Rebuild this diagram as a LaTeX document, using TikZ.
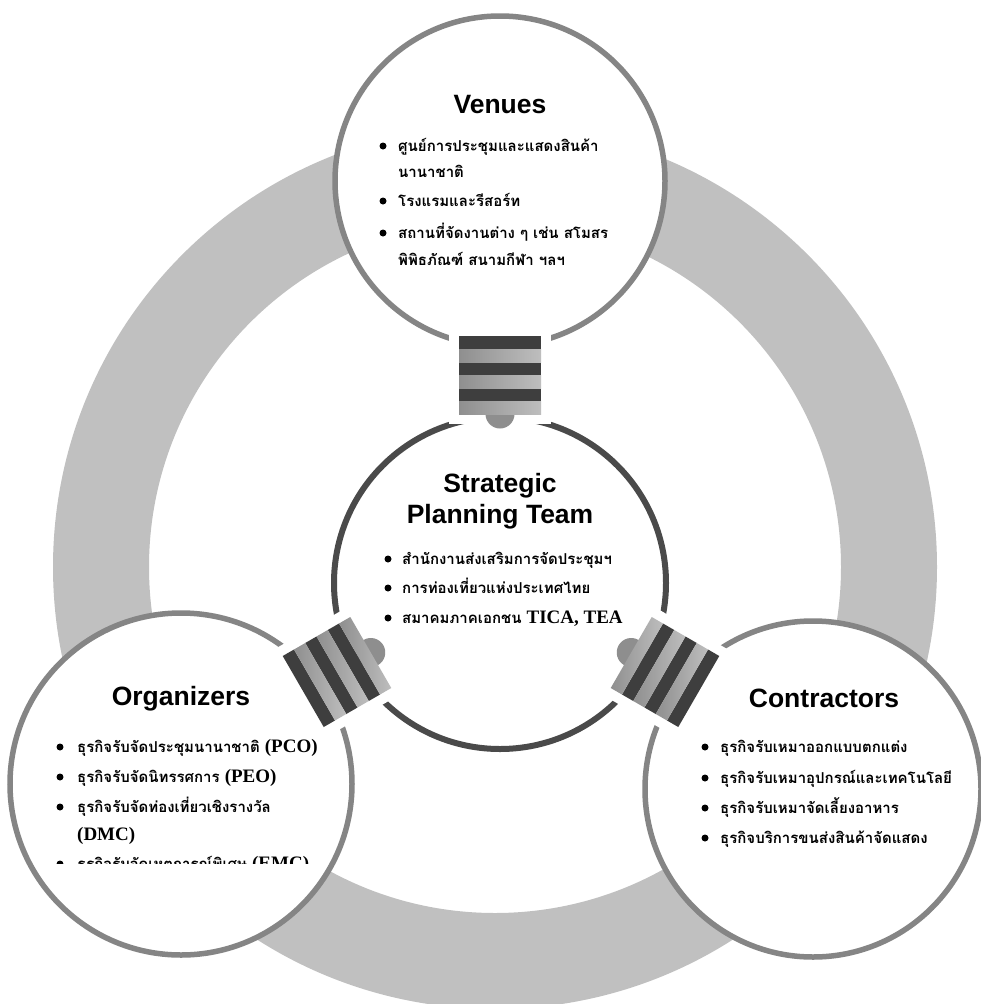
\documentclass[tikz,border=0pt]{standalone}
\usepackage{fontspec}
\setmainfont{Liberation Sans}
\newfontfamily\thaifont[Script=Thai]{Loma}
\newfontfamily\romfont{Liberation Serif}
\definecolor{ringgray}{HTML}{C0C0C0}
\definecolor{rimgray}{HTML}{858585}
\definecolor{rimdark}{HTML}{4A4A4A}
\definecolor{stripedark}{HTML}{3E3E3E}
\definecolor{stripelight}{HTML}{A8A8A8}
\definecolor{tabgray}{HTML}{8E8E8E}
\tikzset{
  outercirc/.style={circle, draw=rimgray, line width=5.5pt, fill=white, inner sep=0pt},
  centercirc/.style={circle, draw=rimdark, line width=6pt, fill=white, inner sep=0pt},
  titletext/.style={font=\fontsize{26.5}{26.5}\selectfont\bfseries, anchor=base, inner sep=0pt, align=center},
  item/.style={font=\thaifont\bfseries\fontsize{15}{15}\selectfont, anchor=base west, inner sep=0pt},
  bul/.style={circle, fill=black, inner sep=0pt, minimum size=7pt},
}
\newcommand{\lat}[1]{{\romfont\bfseries\fontsize{19}{19}\selectfont #1}}
\newcommand{\puzzlepiece}[2]{%
  \begin{scope}[shift={(#1)}, rotate=#2]
    \fill[white] (-51,-49) rectangle (51,49);
    \fill[white] (0,39) circle[radius=22pt];
    \fill[tabgray] (0,39) circle[radius=14.5pt];
    \foreach \k in {0,2,4} \fill[stripedark] (-41,-39+13*\k) rectangle (41,-26+13*\k);
    \foreach \k in {1,3,5} \shade[left color=stripelight!85!black, right color=stripelight!75!white] (-41,-39+13*\k) rectangle (41,-26+13*\k);
  \end{scope}}
\begin{document}
\begin{tikzpicture}[x=1pt,y=-1pt]
\useasboundingbox (0,0) rectangle (981,1004);
\fill[white] (0,0) rectangle (981,1004);
% background ring
\coordinate (ringc) at (495,567);
\fill[ringgray, even odd rule] (ringc) circle[radius=442pt] (ringc) circle[radius=346pt];
% circles
\node[outercirc, minimum size=330pt] (venues) at (500,181) {};
\node[centercirc, minimum size=332pt] (hub) at (500,583) {};
\node[outercirc, minimum size=342pt] (organizers) at (181,784) {};
\node[outercirc, minimum size=336pt] (contractors) at (813,789) {};
% puzzle connectors
\coordinate (c1) at (500,375);
\coordinate (c2) at (337,672);
\coordinate (c3) at (665,672);
\puzzlepiece{c1}{0}
\puzzlepiece{c2}{120}
\puzzlepiece{c3}{-120}
% Venues
\node[titletext] (vt) at (500,113) {Venues};
\node[bul] (vb1) at (383,146) {};
\node[item] (v1) at (398,151) {ศูนย์การประชุมและแสดงสินค้า};
\node[item] (v1b) at (398,177) {นานาชาติ};
\node[bul] (vb2) at (383,201) {};
\node[item] (v2) at (398,206) {โรงแรมและรีสอร์ท};
\node[bul] (vb3) at (383,233) {};
\node[item] (v3) at (398,238) {สถานที่จัดงานต่าง ๆ เช่น สโมสร};
\node[item] (v3b) at (398,265) {พิพิธภัณฑ์ สนามกีฬา ฯลฯ};
% Strategic Planning Team
\node[titletext] (ht1) at (500,492) {Strategic};
\node[titletext] (ht2) at (500,523) {Planning Team};
\node[bul] (hb1) at (388,559) {};
\node[item] (h1) at (402,564) {สำนักงานส่งเสริมการจัดประชุมฯ};
\node[bul] (hb2) at (388,588) {};
\node[item] (h2) at (402,593) {การท่องเที่ยวแห่งประเทศไทย};
\node[bul] (hb3) at (388,618) {};
\node[item] (h3) at (402,623) {สมาคมภาคเอกชน \lat{TICA, TEA}};
% Organizers
\node[titletext] (ot) at (181,705) {Organizers};
\node[bul] (ob1) at (60,747) {};
\node[item] (o1) at (77,752) {ธุรกิจรับจัดประชุมนานาชาติ \lat{(PCO)}};
\node[bul] (ob2) at (60,777) {};
\node[item] (o2) at (77,782) {ธุรกิจรับจัดนิทรรศการ \lat{(PEO)}};
\node[bul] (ob3) at (60,807) {};
\node[item] (o3) at (77,812) {ธุรกิจรับจัดท่องเที่ยวเชิงรางวัล};
\node[item] (o3b) at (77,840) {\lat{(DMC)}};
\begin{scope}
\clip (0,0) rectangle (981,863);
\node[bul] (ob4) at (60,864) {};
\node[item] (o4) at (77,869) {ธุรกิจรับจัดเหตุการณ์พิเศษ \lat{(EMC)}};
\end{scope}
% Contractors
\node[titletext] (ct) at (824,707) {Contractors};
\node[bul] (cb1) at (705,747) {};
\node[item] (k1) at (720,752) {ธุรกิจรับเหมาออกแบบตกแต่ง};
\node[bul] (cb2) at (705,778) {};
\node[item] (k2) at (720,783) {ธุรกิจรับเหมาอุปกรณ์และเทคโนโลยี};
\node[bul] (cb3) at (705,808) {};
\node[item] (k3) at (720,813) {ธุรกิจรับเหมาจัดเลี้ยงอาหาร};
\node[bul] (cb4) at (705,838) {};
\node[item] (k4) at (720,843) {ธุรกิจบริการขนส่งสินค้าจัดแสดง};
\end{tikzpicture}
\end{document}
